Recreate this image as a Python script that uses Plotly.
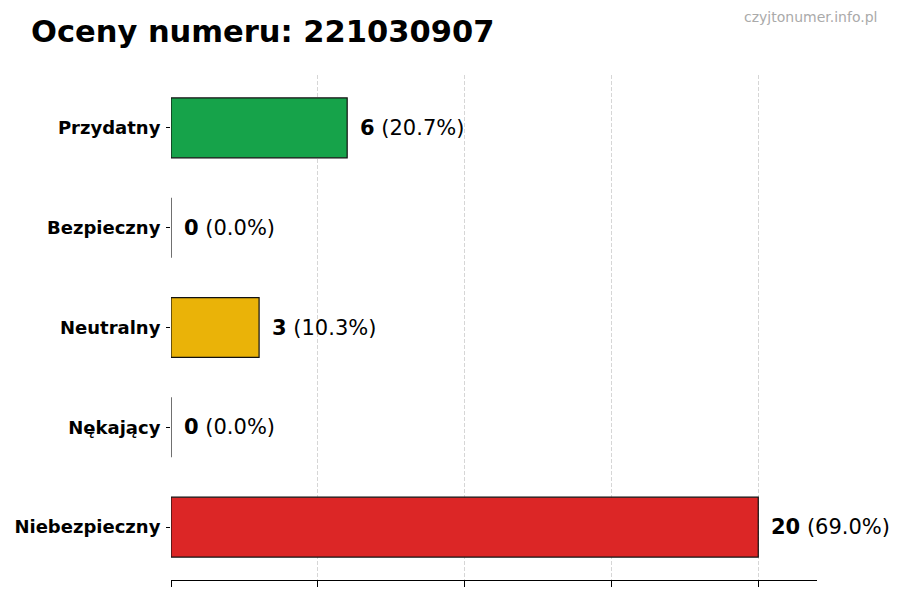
import plotly.graph_objects as go

# Data
categories = ["Przydatny", "Bezpieczny", "Neutralny", "Nękający", "Niebezpieczny"]
counts = [6, 0, 3, 0, 20]
percents = [20.7, 0.0, 10.3, 0.0, 69.0]
bar_colors = ["#16a34a", "#3b82f6", "#eab308", "#f97316", "#dc2626"]

# page body has an 8px margin, so layout numbers are shifted by that
OFF = 8
W, H = 900, 600
L, R, T, B = 171 - OFF, W - (817 - OFF), 75 - OFF, H - (580 - OFF)
PW, PH = W - L - R, H - T - B

fig = go.Figure()

fig.add_trace(go.Bar(
    x=counts,
    y=categories,
    orientation="h",
    width=0.6,
    marker=dict(color=bar_colors, line=dict(color="#111111", width=1.2)),
    hoverinfo="skip",
))

# value labels next to each bar
for cat, n, p in zip(categories, counts, percents):
    fig.add_annotation(
        x=n, y=cat,
        text=f"<b>{n}</b> ({p:.1f}%)",
        showarrow=False,
        xanchor="left",
        xshift=11,
        font=dict(family="DejaVu Sans", size=21, color="black"),
    )

# watermark (paper coords are relative to the plot area)
fig.add_annotation(
    x=(879 - OFF - L) / PW, y=1 + (T - (17 - OFF)) / PH,
    xref="paper", yref="paper",
    xanchor="right", yanchor="middle",
    text="czyjtonumer.info.pl", showarrow=False,
    font=dict(family="DejaVu Sans", size=14, color="#aaaaaa"),
)

fig.update_layout(
    title=dict(
        text="<b>Oceny numeru: 221030907</b>",
        x=(31 - OFF) / W, xanchor="left",
        y=1 - (31 - OFF) / H, yanchor="middle",
        font=dict(family="DejaVu Sans", size=30.5, color="black"),
    ),
    width=W, height=H,
    margin=dict(l=L, r=R, t=T, b=B),
    plot_bgcolor="white",
    paper_bgcolor="white",
    showlegend=False,
    xaxis=dict(
        range=[0, 22],
        tickvals=[0, 5, 10, 15, 20],
        showticklabels=False,
        ticks="outside", ticklen=6, tickcolor="black", tickwidth=1,
        showline=True, linecolor="black", linewidth=1,
        showgrid=True, gridcolor="#d6d6d6", griddash="4px,2px", gridwidth=1,
        zeroline=False,
        layer="above traces",
        automargin=False,
    ),
    yaxis=dict(
        range=[4.53, -0.53],
        tickvals=categories,
        ticktext=[f"<b>{c}</b>" for c in categories],
        ticks="outside", ticklen=4, tickcolor="black",
        showline=False, showgrid=False, zeroline=False,
        tickfont=dict(family="DejaVu Sans", size=18, color="black"),
        ticklabelstandoff=2,
        automargin=False,
    ),
)

fig.write_html("out.html")
